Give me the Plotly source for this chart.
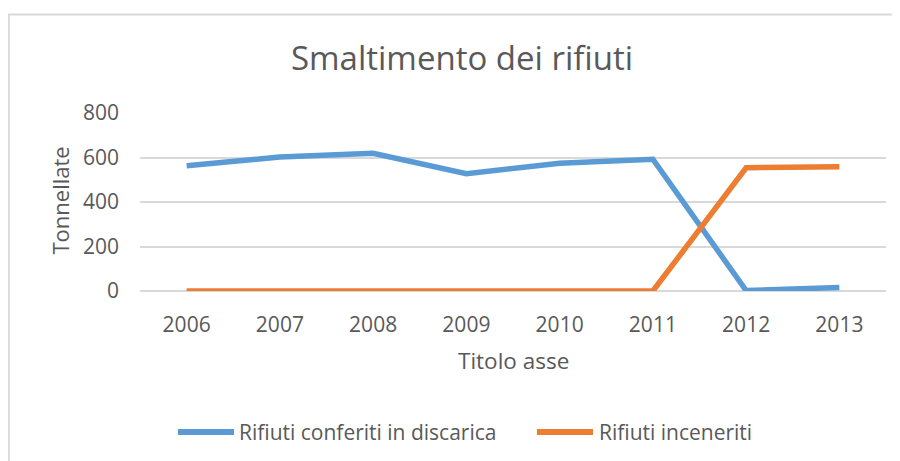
import plotly.graph_objects as go

anni = ["2006", "2007", "2008", "2009", "2010", "2011", "2012", "2013"]
discarica = [563, 602, 619, 527, 574, 592, 2, 16]
inceneriti = [0, 0, 0, 0, 0, 0, 554, 558]
nomi = ["Rifiuti conferiti in discarica", "Rifiuti inceneriti"]
colori = ["#5B9BD5", "#ED7D31"]
y_ticks = [0, 200, 400, 600, 800]

FONT = "Open Sans"
GREY = "#595959"
GRID = "#d9d9d9"

W, H = 900, 461
L, R, T, B = 132, 22, 105.3, 177.7
pw, ph = W - L - R, H - T - B
bottom = H - B


def px(x):
    return (x - L) / pw


def py(y):
    return (bottom - y) / ph


fig = go.Figure()
for serie, nome, col in zip([discarica, inceneriti], nomi, colori):
    fig.add_trace(go.Scatter(x=anni, y=serie, mode="lines", name=nome,
                             line=dict(color=col, width=5.5), showlegend=False))

# outer chart frame
fig.add_shape(type="rect", xref="paper", yref="paper",
              x0=px(0.8), x1=px(915), y0=py(480), y1=py(6.7),
              line=dict(color=GRID, width=2), fillcolor="rgba(0,0,0,0)", layer="below")

# legend drawn manually (long line samples)
leg_y = 424.3
leg_items = [(170, 226, 229), (529, 585, 589)]
for (x0, x1, xt), nome, col in zip(leg_items, nomi, colori):
    fig.add_shape(type="line", xref="paper", yref="paper",
                  x0=px(x0), x1=px(x1), y0=py(leg_y), y1=py(leg_y),
                  line=dict(color=col, width=6))
    fig.add_annotation(text=nome, xref="paper", yref="paper", x=px(xt), y=py(leg_y),
                       xanchor="left", yanchor="middle", showarrow=False,
                       font=dict(size=21, color=GREY, family=FONT))

# axis titles
fig.add_annotation(text="Titolo asse", xref="paper", yref="paper", x=0.5, y=py(353),
                   xanchor="center", yanchor="middle", showarrow=False,
                   font=dict(size=22.5, color=GREY, family=FONT))
fig.add_annotation(text="Tonnellate", xref="paper", yref="paper", x=px(51), y=py(192.8),
                   xanchor="center", yanchor="middle", showarrow=False, textangle=-90,
                   font=dict(size=22, color=GREY, family=FONT))

fig.update_layout(
    width=W, height=H,
    margin=dict(l=L, r=R, t=T, b=B),
    paper_bgcolor="white", plot_bgcolor="white",
    font=dict(family=FONT, color=GREY, size=21),
    title=dict(text="Smaltimento dei rifiuti", x=454 / W, xanchor="center", xref="container",
               y=1 - 50.5 / H, yanchor="middle", font=dict(size=33, color=GREY, family=FONT)),
    xaxis=dict(type="category", range=[-0.5, 7.5], showgrid=False, showline=False,
               zeroline=False, ticks="", ticklabelstandoff=19,
               tickfont=dict(size=21, color=GREY)),
    yaxis=dict(range=[0, 800], tickvals=y_ticks, showgrid=True,
               gridcolor=GRID, gridwidth=2, zeroline=True, zerolinecolor=GRID,
               zerolinewidth=2, showline=False, ticks="", ticklabelstandoff=20,
               tickfont=dict(size=21, color=GREY)),
    showlegend=False,
)

fig.write_html("out.html")
